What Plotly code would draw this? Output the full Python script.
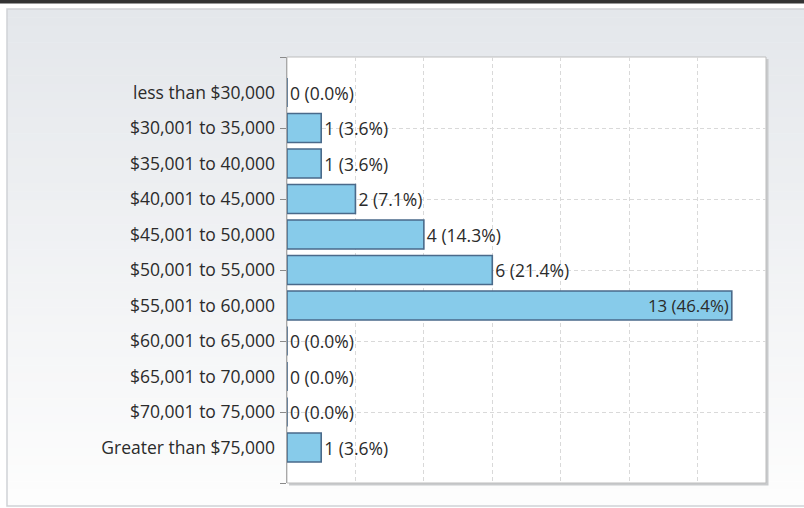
import plotly.graph_objects as go

categories = [
    "less than $30,000", "$30,001 to 35,000", "$35,001 to 40,000",
    "$40,001 to 45,000", "$45,001 to 50,000", "$50,001 to 55,000",
    "$55,001 to 60,000", "$60,001 to 65,000", "$65,001 to 70,000",
    "$70,001 to 75,000", "Greater than $75,000",
]
counts = [0, 1, 1, 2, 4, 6, 13, 0, 0, 0, 1]
percents = ["0.0%", "3.6%", "3.6%", "7.1%", "14.3%", "21.4%", "46.4%",
            "0.0%", "0.0%", "0.0%", "3.6%"]

W, H = 804, 508
L, R, T, B = 287, 766, 57, 483  # plot area in pixels


def px(x):
    return (x - L) / (R - L)


def py(y):
    return (B - y) / (B - T)


pos = list(range(len(categories)))
text_pos = ["inside" if c == max(counts) else "outside" for c in counts]
FONT = "Open Sans, Arial, sans-serif"
FS = 17.5

fig = go.Figure()
fig.add_trace(go.Bar(
    y=pos, x=counts, orientation="h",
    customdata=percents,
    texttemplate="%{x} (%{customdata})",
    textposition=text_pos,
    insidetextanchor="end",
    textfont=dict(color="#2b2b2b", size=FS, family=FONT),
    marker=dict(color="#87CBEA", line=dict(color="#4a6a8a", width=1.6)),
    width=0.82,
    cliponaxis=False,
    showlegend=False,
    hoverinfo="skip",
))
fig.add_trace(go.Scatter(x=[None], y=[None], yaxis="y2", showlegend=False,
                         hoverinfo="skip"))

shapes = []
# gradient background panel
x0p, x1p, y0p, y1p = 7, 806, 9, 506
n = 60
top_c = (228, 231, 235)
bot_c = (253, 253, 253)
for i in range(n):
    f = i / (n - 1)
    c = tuple(round(top_c[k] + (bot_c[k] - top_c[k]) * f) for k in range(3))
    ya = y0p + (y1p - y0p) * i / n
    yb = y0p + (y1p - y0p) * (i + 1) / n + 0.5
    shapes.append(dict(type="rect", xref="paper", yref="paper", layer="below",
                       x0=px(x0p), x1=px(x1p), y0=py(ya), y1=py(yb),
                       line=dict(width=0), fillcolor="rgb(%d,%d,%d)" % c))
# panel border
shapes.append(dict(type="rect", xref="paper", yref="paper", layer="below",
                   x0=px(x0p), x1=px(x1p), y0=py(y0p), y1=py(y1p),
                   line=dict(color="#cfd2d6", width=1.5), fillcolor="rgba(0,0,0,0)"))
# top dark bar
shapes.append(dict(type="rect", xref="paper", yref="paper", layer="above",
                   x0=px(0), x1=px(W), y0=py(0), y1=py(3.5),
                   line=dict(width=0), fillcolor="#333333"))
# plot shadow
shapes.append(dict(type="rect", xref="paper", yref="paper", layer="below",
                   x0=px(L + 2), x1=px(R + 2.5), y0=py(T + 2), y1=py(B + 2.5),
                   line=dict(width=0), fillcolor="#c8cacc"))
# plot background
shapes.append(dict(type="rect", xref="paper", yref="paper", layer="below",
                   x0=0, x1=1, y0=0, y1=1,
                   line=dict(color="#bdbdbd", width=1), fillcolor="white"))

fig.update_layout(
    width=W, height=H,
    margin=dict(l=L, r=W - R, t=T, b=H - B, pad=0),
    paper_bgcolor="white", plot_bgcolor="rgba(0,0,0,0)",
    font=dict(family=FONT, size=FS, color="#2b2b2b"),
    xaxis=dict(range=[0, 14], dtick=2, tick0=0, showgrid=True,
               gridcolor="#d9d9d9", griddash="4px,3px", gridwidth=1,
               showticklabels=False, ticks="", zeroline=False, showline=False),
    yaxis=dict(range=[11, -1], tickvals=pos, ticktext=categories,
               ticks="", showgrid=False, zeroline=False, showline=False,
               ticklabelstandoff=11),
    yaxis2=dict(range=[11, -1], overlaying="y", side="left", anchor="x",
                tickvals=[-1, 1, 3, 5, 7, 9, 11], ticks="outside", ticklen=6,
                tickcolor="#8a8a8a", showticklabels=False, showgrid=True,
                gridcolor="#d9d9d9", griddash="4px,3px", gridwidth=1,
                zeroline=False, showline=True, linecolor="#a8a8a8", linewidth=1.2),
    shapes=shapes,
)

fig.write_html("out.html", config={"displayModeBar": False},
               post_script="document.body.style.margin='0px';")
